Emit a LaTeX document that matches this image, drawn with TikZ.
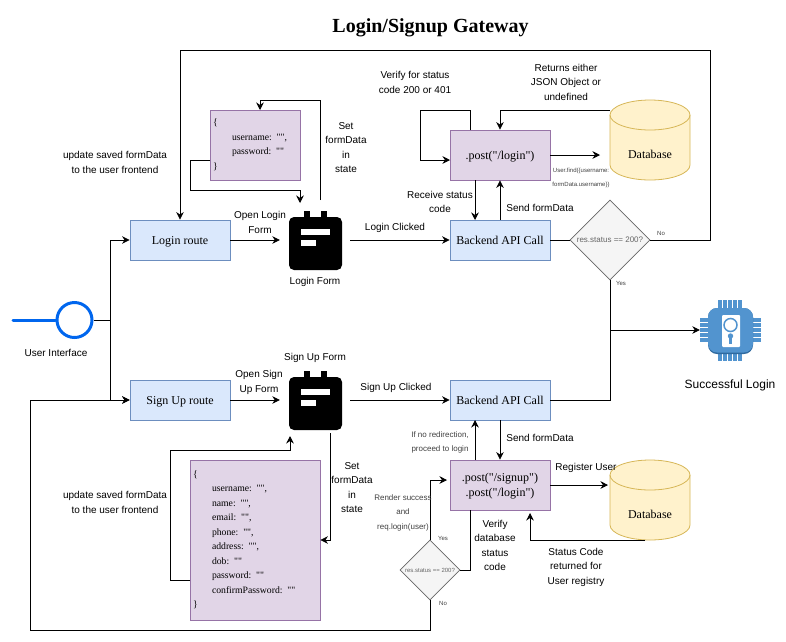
\documentclass[tikz,border=0pt]{standalone}
\usepackage{fontspec}
\setmainfont{Liberation Serif}
\setsansfont{Liberation Sans}
\newfontfamily\plainserif{Liberation Serif}
\usetikzlibrary{arrows.meta,shapes.geometric}
\definecolor{bluefill}{HTML}{DAE8FC}
\definecolor{bluedraw}{HTML}{6C8EBF}
\definecolor{purplefill}{HTML}{E1D5E7}
\definecolor{purpledraw}{HTML}{9673A6}
\definecolor{yellowfill}{HTML}{FFF2CC}
\definecolor{yellowdraw}{HTML}{D6B656}
\definecolor{grayfill}{HTML}{F5F5F5}
\definecolor{graydraw}{HTML}{666666}
\definecolor{userblue}{HTML}{0066EE}
\definecolor{chipblue}{HTML}{5294CF}
\definecolor{chipdark}{HTML}{2F6A9F}
\tikzset{
	flow/.style={line width=0.8pt,-{Stealth[length=7.5pt,width=7.5pt]}},
	wire/.style={line width=0.8pt},
	routebox/.style={draw=bluedraw,fill=bluefill,line width=0.8pt,minimum width=100pt,minimum height=40pt,inner sep=0pt,text height=8pt,text depth=0pt,font=\fontsize{12}{14.5}\selectfont},
	postbox/.style={draw=purpledraw,fill=purplefill,line width=0.8pt,minimum width=100pt,inner sep=0pt,align=center,text depth=0pt,font=\plainserif\fontsize{12}{15}\selectfont},
	databox/.style={draw=purpledraw,fill=purplefill,line width=0.8pt,inner xsep=3pt,inner ysep=0pt,align=left,font=\plainserif\fontsize{9.7}{14.5}\selectfont},
	dbbox/.style={minimum width=80pt,minimum height=80pt,inner sep=0pt},
	dblbl/.style={inner sep=0pt,text height=8pt,text depth=0pt,font=\fontsize{12}{14.5}\selectfont},
	checkbox/.style={diamond,draw=graydraw,fill=grayfill,line width=0.6pt,inner sep=0pt,text=graydraw},
	iconbox/.style={minimum width=70pt,minimum height=70pt,inner sep=0pt},
	lbl/.style={inner sep=0pt,align=center,font=\sffamily\fontsize{10}{14.5}\selectfont},
	smalllbl/.style={inner sep=0pt,align=center,text=black!75,font=\sffamily\fontsize{8}{14.5}\selectfont},
	tinylbl/.style={inner sep=0pt,align=center,text=black!75,font=\sffamily\fontsize{6}{14.5}\selectfont},
}
\newcommand{\formicon}[1]{
	\begin{scope}[shift={(#1.center)}]
		\fill[rounded corners=5pt] (-26,-23) rectangle (27,30);
		\fill (-11,-29) rectangle (-5,-20);
		\fill (6,-29) rectangle (12,-20);
		\fill[white] (-14,-11) rectangle (15,-5);
		\fill[white] (-14,0) rectangle (1,6);
	\end{scope}
}
\newcommand{\dbdrum}[1]{
	\begin{scope}[shift={(#1.center)}]
		\draw[yellowdraw,fill=yellowfill,line width=0.8pt] (-40,-25) -- (-40,25) arc[start angle=180,end angle=360,x radius=40pt,y radius=15pt] -- (40,-25) arc[start angle=0,end angle=180,x radius=40pt,y radius=15pt] -- cycle;
		\draw[yellowdraw,line width=0.8pt] (-40,-25) arc[start angle=180,end angle=360,x radius=40pt,y radius=15pt];
	\end{scope}
}
\newcommand{\tab}{\hspace*{19pt}}
\begin{document}
\begin{tikzpicture}[x=1pt,y=-1pt]
	\useasboundingbox (0,0) rectangle (786,641);
	\node[font=\bfseries\fontsize{20}{22}\selectfont] (title) at (430.5,28) {Login/Signup Gateway};

	\node[circle,draw=userblue,line width=3pt,minimum size=35pt,inner sep=0pt] (userif) at (74.5,320) {};
	\coordinate (userstub) at (13,320);
	\coordinate (usersplit) at (110,320);
	\node[lbl] (userlbl) at (56,353) {User Interface};
	\draw[userblue,line width=3pt,line cap=round] (userstub) -- (userif);
	\draw[wire] (userif) -- (usersplit);

	% login half
	\node[routebox] (loginroute) at (180,240) {Login route};
	\node[iconbox] (loginform) at (315,240) {};
	\formicon{loginform}
	\node[lbl] (loginformlbl) at (315,282) {Login Form};
	\node[databox,text width=84pt,minimum height=70pt] (logindata) at (255,145) {\{\\\tab username: "",\\\tab password: ""\\\}};
	\node[routebox] (loginapi) at (500,240) {Backend API Call};
	\node[postbox,minimum height=50pt] (loginpost) at (500,155) {.post("/login")};
	\node[dbbox] (logindb) at (650,140) {};
	\dbdrum{logindb}
	\node[dblbl] (logindblbl) at (650,154) {Database};
	\node[checkbox,minimum size=80pt,font=\sffamily\fontsize{8}{10}\selectfont] (logincheck) at (610,240) {res.status == 200?};

	\coordinate (loginset) at (320,200);
	\coordinate (loginsetend) at (260,110);
	\coordinate (loginsave) at (210,160);
	\coordinate (loginback) at (300,203);
	\coordinate (verifyout) at (470,130);
	\coordinate (verifyin) at (450,160);
	\coordinate (logindbin) at (600,155);
	\coordinate (logindbout) at (610,110);
	\coordinate (replyout) at (475,180);
	\coordinate (replyin) at (475,220);
	\coordinate (yesjoin) at (610,330);

	\draw[flow] (usersplit) |- (loginroute);
	\draw[flow] (loginroute) -- (loginform);
	\draw[flow] (loginset) -- (320,100) -- (260,100) -- (loginsetend);
	\draw[flow] (loginsave) -- (190,160) -- (190,190) -- (300,190) -- (loginback);
	\draw[flow] (loginform) -- (loginapi);
	\draw[flow] (loginapi) -- (loginpost);
	\draw[flow] (replyout) -- (replyin);
	\draw[flow] (verifyout) -- (470,110) -- (420,110) -- (420,160) -- (verifyin);
	\draw[flow] (loginpost.east) -- (logindbin);
	\draw[flow] (logindbout) -- (500,110) -- (loginpost);
	\draw[wire] (loginapi) -- (logincheck);
	\draw[flow] (logincheck) -- (710,240) -- (710,50) -- (180,50) -- (loginroute);

	\node[lbl] at (260,222.5) {Open Login\\Form};
	\node[lbl] at (346,147.5) {Set\\formData\\in\\state};
	\node[lbl] at (115,162.5) {update saved formData\\to the user frontend};
	\node[lbl] at (395,228) {Login Clicked};
	\node[lbl] at (415,82.5) {Verify for status\\code 200 or 401};
	\node[lbl] at (566,82) {Returns either\\JSON Object or\\undefined};
	\node[lbl] at (440,202) {Receive status\\code};
	\node[lbl] at (540,208) {Send formData};
	\node[tinylbl] at (581,178) {User.find(\{username:\\formData.username\})};
	\node[tinylbl] at (661,233) {No};
	\node[tinylbl] at (621,283) {Yes};

	% sign up half
	\node[routebox] (signuproute) at (180,400) {Sign Up route};
	\node[iconbox] (signupform) at (315,400) {};
	\formicon{signupform}
	\node[lbl] (signupformlbl) at (315,358) {Sign Up Form};
	\node[databox,text width=124pt,minimum height=160pt] (signupdata) at (255,540) {\{\\\tab username: "",\\\tab name: "",\\\tab email: "",\\\tab phone: "",\\\tab address: "",\\\tab dob: ""\\\tab password: ""\\\tab confirmPassword: ""\\\}};
	\node[routebox] (signupapi) at (500,400) {Backend API Call};
	\node[postbox,minimum height=50pt] (signuppost) at (500,485) {.post("/signup")\\.post("/login")};
	\node[dbbox] (signupdb) at (650,500) {};
	\dbdrum{signupdb}
	\node[dblbl] (signupdblbl) at (650,514) {Database};
	\node[checkbox,minimum size=60pt,font=\sffamily\fontsize{6}{8}\selectfont] (signupcheck) at (430,570) {res.status == 200?};

	\coordinate (signupset) at (330,433);
	\coordinate (signupsave) at (190,580);
	\coordinate (signupback) at (290,436);
	\coordinate (redirectout) at (475,460);
	\coordinate (redirectin) at (475,420);
	\coordinate (signupdbin) at (608,485);
	\coordinate (signupdbout) at (645,540);
	\coordinate (statusin) at (530,513);
	\coordinate (statusout) at (470,510);
	\coordinate (successin) at (447,480);

	\draw[flow] (usersplit) |- (signuproute);
	\draw[flow] (signuproute) -- (signupform);
	\draw[flow] (signupset) -- (330,540) -- (signupdata);
	\draw[flow] (signupsave) -- (170,580) -- (170,450) -- (290,450) -- (signupback);
	\draw[flow] (signupform) -- (signupapi);
	\draw[flow] (signupapi) -- (signuppost);
	\draw[flow] (redirectout) -- (redirectin);
	\draw[flow] (signuppost.east) -- (signupdbin);
	\draw[flow] (signupdbout) -- (530,540) -- (statusin);
	\draw[wire] (statusout) -- (470,570) -- (signupcheck);
	\draw[flow] (signupcheck) -- (430,480) -- (successin);
	\draw[flow] (signupcheck) -- (430,630) -- (30,630) -- (30,400) -- (signuproute);

	\node[lbl] at (259,382.5) {Open Sign\\Up Form};
	\node[lbl] at (352,487.5) {Set\\formData\\in\\state};
	\node[lbl] at (115,502.5) {update saved formData\\to the user frontend};
	\node[lbl] at (396,388) {Sign Up Clicked};
	\node[smalllbl] at (440,442.5) {If no redirection,\\proceed to login};
	\node[lbl] at (540,438) {Send formData};
	\node[lbl] at (586,468) {Register User};
	\node[smalllbl] at (403,512.5) {Render success\\and\\req.login(user)};
	\node[lbl] at (495,545.5) {Verify\\database\\status\\code};
	\node[lbl] at (576,567) {Status Code\\returned for\\User registry};
	\node[tinylbl] at (443,538) {Yes};
	\node[tinylbl] at (443,603) {No};

	% chip on the right
	\node[iconbox,minimum width=60pt,minimum height=62pt] (chip) at (730,330) {};
	\begin{scope}[shift={(chip.center)}]
		\foreach \p in {-10,-5,0,5,10} {
			\fill[chipblue] (\p-1.75,-30) rectangle (\p+1.75,31);
			\fill[chipblue] (-30,\p-1.75) rectangle (31,\p+1.75);
		}
		\fill[chipdark,rounded corners=9pt] (-22,-22) rectangle (23,24);
		\fill[chipblue,rounded corners=9pt] (-22,-22) rectangle (23,22.5);
		\fill[white,rounded corners=1pt] (-8,-15) rectangle (10,17);
		\draw[chipblue,line width=1.5pt] (0.5,-5) circle (6.5);
		\fill[chipblue] (0.5,6) circle (2.7);
		\fill[chipblue] (-0.7,6) rectangle (1.7,14);
	\end{scope}
	\node[font=\sffamily\fontsize{12}{14}\selectfont] (chiplbl) at (730,385) {Successful Login};
	\draw[flow] (yesjoin) -- (chip);
	\draw[wire] (logincheck) -- (610,400) -- (signupapi);
\end{tikzpicture}
\end{document}
